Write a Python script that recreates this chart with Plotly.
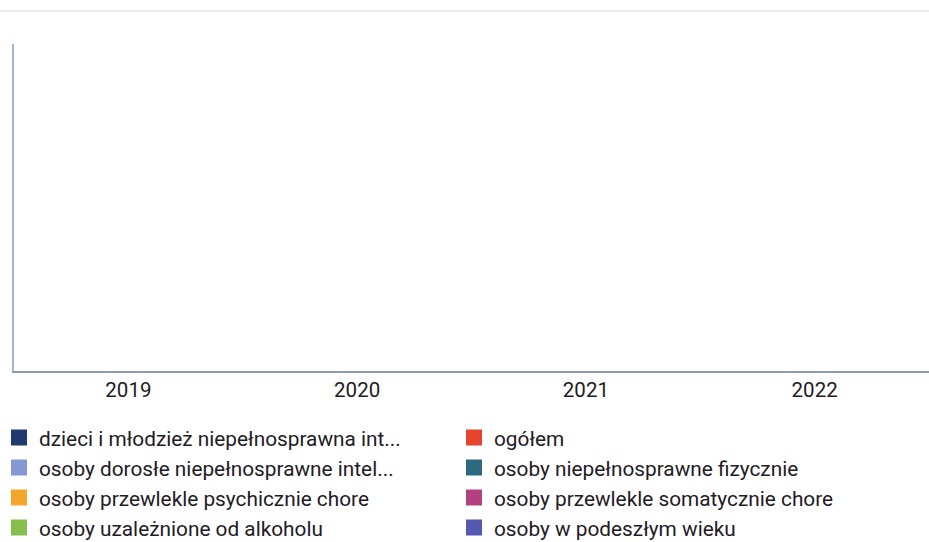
import plotly.graph_objects as go

years = ["2019", "2020", "2021", "2022"]
series_names = [
    "dzieci i młodzież niepełnosprawna int...",
    "ogółem",
    "osoby dorosłe niepełnosprawne intel...",
    "osoby niepełnosprawne fizycznie",
    "osoby przewlekle psychicznie chore",
    "osoby przewlekle somatycznie chore",
    "osoby uzależnione od alkoholu",
    "osoby w podeszłym wieku",
]
# no values are shown in the chart
series_values = [[None, None, None, None] for _ in series_names]
series_colors = ["#1f3b6e", "#e5452f", "#8598d4", "#2d6a80",
                 "#f3a52c", "#b2427f", "#86bf4e", "#5558b0"]

fig = go.Figure()
for name, vals, col in zip(series_names, series_values, series_colors):
    fig.add_trace(go.Bar(x=years, y=vals, name=name, marker_color=col,
                         marker_line=dict(color=col, width=4),
                         showlegend=True))

fig.update_layout(
    width=929, height=542,
    margin=dict(l=14, r=0, t=44, b=171, autoexpand=False),
    paper_bgcolor="white", plot_bgcolor="white",
    font=dict(family="Roboto, Noto Sans, sans-serif", color="#231a26", size=20),
    xaxis=dict(type="category", showgrid=False, zeroline=False,
               showline=True, linecolor="#8e9ab0", linewidth=1.5,
               ticks="", tickfont=dict(size=20.5, color="#1e1a1e"),
               ticklabelstandoff=0),
    yaxis=dict(range=[0, 1], showgrid=False, zeroline=False,
               showline=True, linecolor="#9cb6dc", linewidth=1.5,
               showticklabels=False, ticks=""),
    legend=dict(orientation="h", x=-15 / 915, xanchor="left", y=-0.142,
                yanchor="top", entrywidth=410, entrywidthmode="pixels",
                font=dict(size=20.8), tracegroupgap=0, itemwidth=30),
    shapes=[dict(type="line", xref="paper", yref="paper", x0=-0.02, x1=1.0,
                 y0=1.101, y1=1.101, line=dict(color="#d8d8d8", width=1))],
)

fig.write_html("out.html", config={"displayModeBar": False},
               post_script="document.body.style.margin='0';"
                           "document.body.style.padding='0';")
